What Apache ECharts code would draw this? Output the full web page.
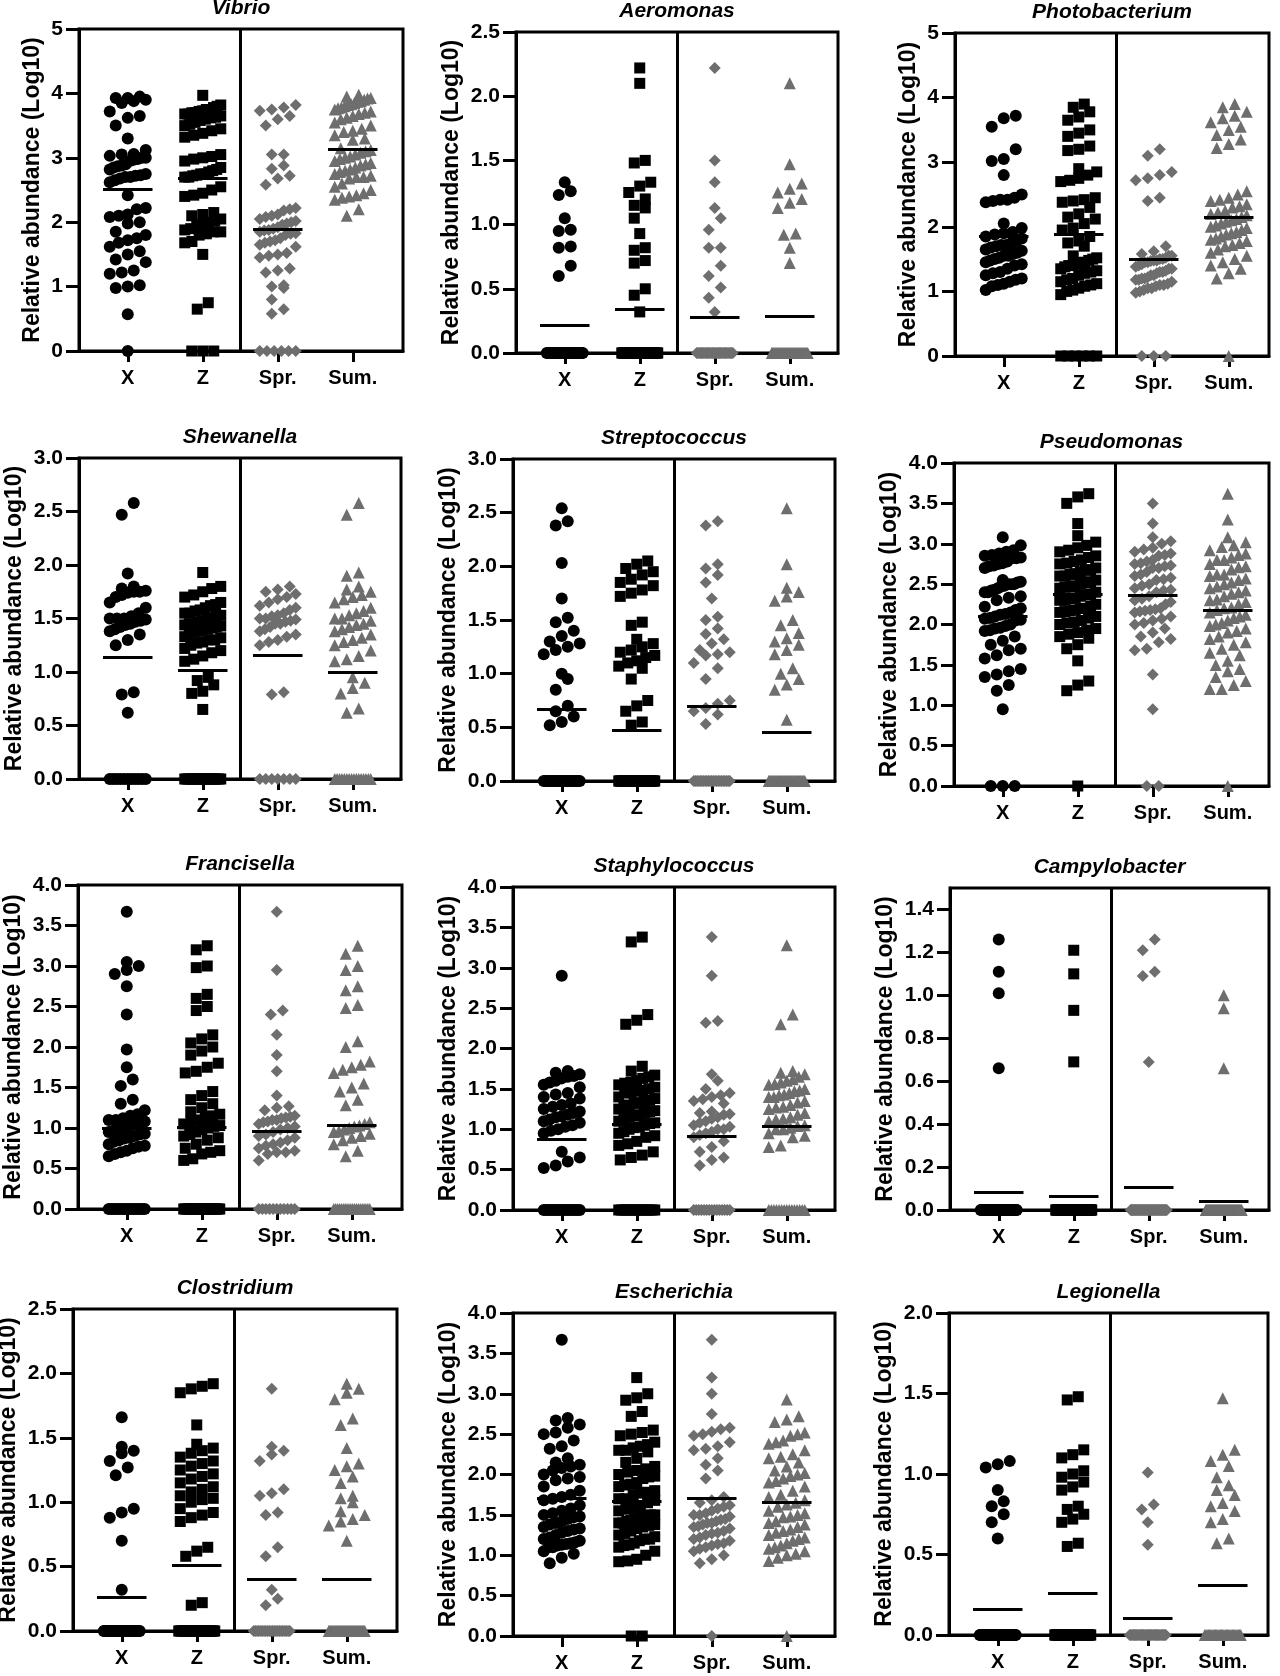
<!DOCTYPE html>
<html>
<head>
<meta charset="utf-8">
<title>Relative abundance by genus</title>
<script src="https://cdn.jsdelivr.net/npm/echarts@6.0.0/dist/echarts.min.js"></script>
<style>
  html, body { margin: 0; padding: 0; background: #fff; }
  #main { width: 1280px; height: 1676px; }
</style>
</head>
<body>
<div id="main"></div>
<script>
// groups on the x axis and the genus shown in each panel
var categories = ['X', 'Z', 'Spr.', 'Sum.'];
var genera = ['Vibrio', 'Aeromonas', 'Photobacterium', 'Shewanella', 'Streptococcus', 'Pseudomonas',
  'Francisella', 'Staphylococcus', 'Campylobacter', 'Clostridium', 'Escherichia', 'Legionella'];

// y axis ticks per panel (top of the axis is the last entry of yMax)
var yMax = [5, 2.5, 5, 3, 3, 4, 4, 4, 1.5, 2.5, 4, 2];
var ticksInt5 = [0, 1, 2, 3, 4, 5];
var ticks25 = [0, 0.5, 1, 1.5, 2, 2.5];
var ticks30 = [0, 0.5, 1, 1.5, 2, 2.5, 3];
var ticks40 = [0, 0.5, 1, 1.5, 2, 2.5, 3, 3.5, 4];
var ticks14 = [0, 0.2, 0.4, 0.6, 0.8, 1, 1.2, 1.4];
var ticks20 = [0, 0.5, 1, 1.5, 2];

// ---- Vibrio
var vibrioX = [3.95,3.93,3.93,3.9,3.88,3.85,3.72,3.65,3.62,3.5,3.3,3.12,3.06,3.05,3.03,3.0,3.0,2.98,2.97,2.95,2.9,2.88,2.87,2.85,2.82,2.75,2.73,2.72,2.7,2.7,2.68,2.65,2.62,2.42,2.22,2.2,2.12,2.1,2.08,2.0,1.98,1.85,1.8,1.75,1.72,1.68,1.62,1.55,1.5,1.42,1.38,1.25,1.22,1.2,1.02,1.0,0.98,0.57,0];
var vibrioZ = [3.97,3.82,3.8,3.78,3.75,3.75,3.73,3.72,3.7,3.7,3.68,3.68,3.65,3.63,3.62,3.6,3.58,3.55,3.52,3.5,3.45,3.42,3.38,3.35,3.32,3.05,3.02,3.0,2.98,2.95,2.85,2.82,2.8,2.78,2.75,2.75,2.73,2.72,2.7,2.7,2.55,2.5,2.45,2.42,2.4,2.15,2.12,2.1,2.05,2.02,2.0,1.98,1.95,1.9,1.88,1.85,1.85,1.82,1.8,1.7,1.68,1.5,0.75,0.65,0,0,0];
var vibrioSpr = [3.82,3.78,3.75,3.73,3.65,3.6,3.5,3.05,3.05,2.88,2.83,2.72,2.68,2.58,2.22,2.2,2.18,2.12,2.1,2.08,2.05,2.02,2.0,1.98,1.96,1.92,1.9,1.88,1.87,1.85,1.83,1.82,1.8,1.75,1.72,1.7,1.68,1.65,1.62,1.52,1.5,1.48,1.45,1.28,1.25,1.22,1.02,1.0,0.98,0.8,0.65,0.58,0,0,0,0,0,0];
var vibrioSum = [3.98,3.95,3.93,3.92,3.9,3.88,3.87,3.85,3.83,3.82,3.8,3.78,3.77,3.75,3.72,3.7,3.68,3.65,3.62,3.6,3.55,3.5,3.45,3.42,3.4,3.35,3.3,3.28,3.15,3.12,3.1,3.08,3.05,3.02,3.0,2.98,2.95,2.92,2.9,2.88,2.85,2.82,2.8,2.78,2.75,2.72,2.7,2.7,2.68,2.6,2.55,2.5,2.45,2.42,2.4,2.38,2.35,2.2,2.1];
var vibrioMean = [2.51, 2.68, 1.89, 3.14];

// ---- Aeromonas
var aeromonasX = [1.33,1.26,1.23,1.05,0.96,0.95,0.83,0.82,0.68,0.6,
  0,0,0,0,0,0,0,0,0,0, 0,0,0,0,0,0,0,0,0,0, 0,0,0,0,0,0,0,0,0,0, 0,0,0,0];
var aeromonasZ = [2.22,2.1,1.5,1.48,1.33,1.3,1.25,1.2,1.15,1.13,1.05,0.93,0.82,0.8,0.72,0.7,0.5,0.45,0.32,
  0,0,0,0,0,0,0,0,0,0, 0,0,0,0,0,0,0,0,0,0, 0,0,0,0,0,0,0,0,0,0, 0,0,0,0,0,0,0,0,0,0, 0,0,0];
var aeromonasSpr = [2.22,1.5,1.33,1.13,1.05,0.96,0.82,0.82,0.68,0.6,0.51,0.43,0.32,
  0,0,0,0,0,0,0,0,0,0, 0,0,0,0,0,0,0,0,0,0, 0,0,0,0,0,0,0,0,0,0, 0];
var aeromonasSum = [2.1,1.47,1.32,1.28,1.25,1.2,1.17,1.13,0.93,0.92,0.82,0.7,
  0,0,0,0,0,0,0,0,0,0, 0,0,0,0,0,0,0,0,0,0, 0,0,0,0,0,0,0,0,0,0, 0,0,0,0,0,0,0];
var aeromonasMean = [0.22, 0.34, 0.28, 0.29];

// ---- Photobacterium
var photobacteriumX = [3.72,3.68,3.55,3.2,3.05,3.02,2.8,2.5,2.45,2.42,2.42,2.4,2.38,2.05,1.98,1.92,1.9,1.88,1.85,1.82,1.78,1.75,1.72,1.72,1.7,1.68,1.65,1.63,1.6,1.58,1.55,1.55,1.52,1.5,1.48,1.45,1.42,1.4,1.35,1.3,1.28,1.25,1.2,1.18,1.15,1.12,1.1,1.08,1.02];
var photobacteriumZ = [3.9,3.85,3.78,3.7,3.65,3.5,3.45,3.4,3.25,3.2,3.18,2.9,2.85,2.8,2.75,2.72,2.7,2.45,2.42,2.4,2.38,2.3,2.2,2.15,2.12,2.05,1.98,1.95,1.85,1.78,1.75,1.7,1.55,1.52,1.5,1.48,1.45,1.45,1.42,1.4,1.4,1.38,1.35,1.32,1.3,1.28,1.25,1.2,1.18,1.15,1.12,1.1,1.08,1.05,1.02,1.0,0.95,0,0,0,0,0,0];
var photobacteriumSpr = [3.2,3.1,2.85,2.8,2.75,2.72,2.45,2.4,1.7,1.62,1.58,1.55,1.55,1.52,1.5,1.5,1.48,1.48,1.47,1.45,1.45,1.42,1.4,1.38,1.35,1.35,1.32,1.3,1.3,1.28,1.25,1.25,1.22,1.2,1.2,1.18,1.18,1.15,1.12,1.1,1.1,1.08,1.05,1.05,1.02,1.0,0.98,0,0,0];
var photobacteriumSum = [3.9,3.85,3.78,3.72,3.68,3.62,3.55,3.5,3.42,3.35,3.28,3.22,2.55,2.5,2.45,2.42,2.4,2.35,2.32,2.3,2.25,2.22,2.2,2.18,2.15,2.12,2.1,2.08,2.05,2.02,2.0,1.98,1.95,1.92,1.9,1.88,1.85,1.82,1.8,1.78,1.75,1.72,1.7,1.65,1.6,1.55,1.5,1.45,1.4,1.35,1.28,1.2,0];
var photobacteriumMean = [1.85, 1.88, 1.49, 2.15];

// ---- Shewanella
var shewanellaX = [2.58,2.47,1.92,1.8,1.78,1.76,1.75,1.75,1.74,1.72,1.7,1.65,1.6,1.55,1.52,1.5,1.5,1.5,1.49,1.48,1.47,1.45,1.44,1.42,1.4,1.38,1.35,1.3,1.25,0.81,0.79,0.62,
  0,0,0,0,0,0,0,0,0,0, 0];
var shewanellaZ = [1.93,1.8,1.78,1.75,1.72,1.7,1.65,1.63,1.62,1.6,1.58,1.57,1.55,1.55,1.53,1.52,1.5,1.5,1.48,1.47,1.45,1.45,1.44,1.43,1.42,1.41,1.4,1.4,1.38,1.37,1.35,1.33,1.32,1.3,1.3,1.28,1.27,1.25,1.22,1.2,1.18,1.15,1.12,1.1,0.95,0.92,0.88,0.82,0.8,0.65,
  0,0,0,0,0,0,0,0,0,0, 0,0,0,0,0,0,0,0,0];
var shewanellaSpr = [1.8,1.77,1.75,1.73,1.7,1.68,1.65,1.62,1.6,1.58,1.55,1.53,1.52,1.5,1.5,1.49,1.48,1.47,1.45,1.45,1.42,1.4,1.38,1.35,1.33,1.3,1.28,1.25,0.81,0.79,
  0,0,0,0,0,0,0];
var shewanellaSum = [2.58,2.47,1.93,1.9,1.8,1.77,1.75,1.72,1.7,1.68,1.65,1.6,1.57,1.55,1.53,1.5,1.5,1.48,1.45,1.44,1.42,1.4,1.38,1.35,1.32,1.3,1.28,1.25,1.2,1.15,1.12,1.1,0.95,0.9,0.85,0.8,0.66,0.62,
  0,0,0,0,0,0,0,0,0,0, 0,0,0,0,0,0];
var shewanellaMean = [1.14, 1.02, 1.16, 1.0];

// ---- Streptococcus
var streptococcusX = [2.54,2.42,2.38,2.03,1.7,1.52,1.48,1.4,1.35,1.3,1.28,1.25,1.22,1.18,1.0,0.95,0.85,0.7,0.65,0.6,0.55,0.52,
  0,0,0,0,0,0,0,0,0,0, 0,0,0,0,0,0,0,0,0,0, 0];
var streptococcusZ = [2.05,2.02,1.98,1.95,1.92,1.88,1.85,1.82,1.78,1.75,1.72,1.48,1.45,1.32,1.28,1.25,1.22,1.2,1.17,1.15,1.12,1.1,1.07,1.05,0.95,0.75,0.7,0.65,0.55,0.52,
  0,0,0,0,0,0,0,0,0,0, 0,0,0,0,0,0,0,0,0,0, 0,0,0,0,0,0,0,0,0,0, 0,0,0,0,0,0,0,0,0,0];
var streptococcusSpr = [2.42,2.38,2.02,1.98,1.92,1.85,1.7,1.53,1.5,1.42,1.37,1.32,1.28,1.22,1.2,1.18,1.17,1.1,1.05,0.95,0.75,0.72,0.68,0.65,0.62,0.53,
  0,0,0,0,0,0,0,0,0,0, 0,0,0,0,0,0,0,0,0,0, 0,0,0];
var streptococcusSum = [2.54,2.02,1.8,1.76,1.72,1.68,1.5,1.45,1.38,1.33,1.3,1.27,1.22,1.18,1.05,1.0,0.95,0.9,0.85,0.57,
  0,0,0,0,0,0,0,0,0,0, 0,0,0,0,0,0,0,0,0,0, 0,0,0,0,0,0,0,0,0,0, 0,0,0,0,0,0,0,0,0,0, 0];
var streptococcusMean = [0.67, 0.47, 0.70, 0.45];

// ---- Pseudomonas
var pseudomonasX = [3.08,2.98,2.92,2.9,2.88,2.86,2.85,2.83,2.82,2.82,2.78,2.76,2.75,2.73,2.72,2.7,2.55,2.53,2.52,2.5,2.5,2.5,2.48,2.47,2.45,2.43,2.42,2.4,2.4,2.35,2.33,2.3,2.22,2.2,2.18,2.15,2.13,2.12,2.1,2.08,2.07,2.06,2.05,2.0,1.98,1.96,1.95,1.93,1.92,1.85,1.8,1.75,1.7,1.68,1.62,1.58,1.45,1.42,1.38,1.35,1.25,1.18,0.95,0,0,0];
var pseudomonasZ = [3.62,3.58,3.5,3.25,3.1,3.02,2.98,2.95,2.92,2.9,2.85,2.83,2.8,2.78,2.76,2.75,2.7,2.68,2.67,2.65,2.63,2.62,2.6,2.6,2.55,2.53,2.52,2.5,2.48,2.47,2.46,2.45,2.4,2.38,2.37,2.35,2.33,2.32,2.3,2.3,2.25,2.23,2.2,2.2,2.18,2.17,2.16,2.15,2.1,2.08,2.05,2.03,2.02,2.0,1.95,1.93,1.9,1.88,1.85,1.83,1.75,1.7,1.55,1.3,1.25,1.18,0];
var pseudomonasSpr = [3.5,3.25,3.08,3.03,3.0,2.95,2.93,2.9,2.88,2.86,2.85,2.8,2.78,2.76,2.75,2.73,2.72,2.7,2.7,2.65,2.62,2.6,2.58,2.56,2.55,2.5,2.48,2.45,2.43,2.42,2.4,2.35,2.32,2.3,2.28,2.25,2.2,2.19,2.18,2.17,2.16,2.15,2.1,2.07,2.05,2.02,2.0,1.95,1.9,1.85,1.82,1.78,1.7,1.68,1.38,0.95,0,0];
var pseudomonasSum = [3.62,3.3,3.08,3.02,2.98,2.96,2.92,2.88,2.86,2.83,2.8,2.8,2.75,2.72,2.71,2.68,2.62,2.62,2.6,2.57,2.55,2.52,2.5,2.47,2.45,2.42,2.4,2.38,2.35,2.31,2.3,2.28,2.25,2.21,2.2,2.18,2.15,2.12,2.1,2.08,2.05,2.02,2.0,1.98,1.95,1.92,1.9,1.85,1.82,1.78,1.75,1.7,1.65,1.62,1.55,1.5,1.45,1.42,1.35,1.3,1.25,1.2,1.2,0];
var pseudomonasMean = [2.10, 2.37, 2.36, 2.18];

// ---- Francisella
var francisellaX = [3.67,3.05,3.0,2.95,2.9,2.75,2.4,1.97,1.75,1.6,1.52,1.35,1.3,1.22,1.17,1.15,1.12,1.1,1.1,1.08,1.06,1.05,1.02,1.0,0.98,0.97,0.95,0.93,0.92,0.9,0.88,0.87,0.85,0.83,0.8,0.78,0.77,0.75,0.72,0.7,0.68,0.65,
  0,0,0,0,0,0,0,0,0,0, 0,0,0,0,0];
var francisellaZ = [3.25,3.2,3.0,2.98,2.65,2.6,2.5,2.45,2.15,2.1,2.05,2.0,1.95,1.9,1.8,1.75,1.7,1.68,1.45,1.4,1.35,1.3,1.25,1.2,1.17,1.15,1.12,1.1,1.08,1.05,1.03,1.02,1.0,0.98,0.95,0.92,0.9,0.88,0.85,0.8,0.75,0.72,0.7,0.68,0.62,0.6,
  0,0,0,0,0,0,0,0,0,0, 0,0,0,0,0,0,0,0,0,0, 0,0,0];
var francisellaSpr = [3.67,2.95,2.45,2.4,2.15,1.9,1.7,1.4,1.27,1.25,1.22,1.15,1.14,1.13,1.12,1.1,1.1,1.08,1.07,1.05,1.02,1.0,0.98,0.95,0.92,0.9,0.88,0.85,0.82,0.8,0.78,0.75,0.72,0.7,0.7,0.68,0.6,
  0,0,0,0,0,0,0,0,0,0, 0];
var francisellaSum = [3.25,3.15,3.0,2.95,2.75,2.7,2.52,2.48,2.07,2.0,1.82,1.78,1.75,1.72,1.68,1.55,1.5,1.45,1.35,1.28,1.07,1.05,1.03,1.02,1.0,0.98,0.96,0.95,0.93,0.9,0.88,0.85,0.8,0.72,0.65,
  0,0,0,0,0,0,0,0,0,0, 0,0,0,0,0,0,0,0,0,0];
var francisellaMean = [1.0, 1.01, 0.96, 1.03];

// ---- Staphylococcus
var staphylococcusX = [2.9,1.72,1.7,1.68,1.66,1.65,1.63,1.6,1.58,1.55,1.52,1.45,1.43,1.4,1.38,1.32,1.3,1.28,1.25,1.22,1.2,1.18,1.16,1.15,1.12,1.1,1.08,1.05,1.03,1.0,0.98,0.95,0.72,0.65,0.6,0.55,0.52,
  0,0,0,0,0,0,0,0,0,0, 0,0,0,0,0];
var staphylococcusZ = [3.38,3.32,2.42,2.35,2.3,1.78,1.72,1.67,1.65,1.63,1.6,1.58,1.57,1.55,1.52,1.5,1.48,1.47,1.45,1.45,1.4,1.38,1.36,1.35,1.33,1.32,1.3,1.28,1.25,1.23,1.22,1.2,1.18,1.17,1.15,1.12,1.1,1.08,1.07,1.05,1.03,1.02,1.0,0.97,0.95,0.92,0.9,0.85,0.82,0.8,0.72,0.68,0.65,0.62,
  0,0,0,0,0,0,0,0,0,0, 0,0,0,0,0];
var staphylococcusSpr = [3.38,2.9,2.34,2.32,1.68,1.6,1.5,1.45,1.42,1.4,1.37,1.35,1.32,1.22,1.2,1.19,1.18,1.15,1.13,1.1,1.08,1.05,1.03,1.0,1.0,0.97,0.95,0.93,0.9,0.85,0.78,0.72,0.65,0.62,0.55,
  0,0,0,0,0,0,0,0,0,0, 0,0,0,0,0];
var staphylococcusSum = [3.28,2.42,2.3,1.72,1.7,1.68,1.65,1.62,1.6,1.58,1.56,1.55,1.5,1.48,1.47,1.45,1.43,1.42,1.4,1.4,1.35,1.33,1.3,1.28,1.27,1.25,1.2,1.18,1.15,1.13,1.12,1.1,1.05,1.04,1.02,1.0,1.0,0.95,0.92,0.9,0.8,0.78,
  0,0,0,0,0,0,0,0,0,0, 0,0,0,0,0];
var staphylococcusMean = [0.87, 1.06, 0.91, 1.04];

// ---- Campylobacter
var campylobacterX = [1.26,1.11,1.01,0.66,
  0,0,0,0,0,0,0,0,0,0, 0,0,0,0,0,0,0,0,0,0, 0,0,0,0,0,0,0,0,0,0, 0,0,0,0,0,0,0,0,0,0, 0,0,0,0,0,0];
var campylobacterZ = [1.21,1.1,0.93,0.69,
  0,0,0,0,0,0,0,0,0,0, 0,0,0,0,0,0,0,0,0,0, 0,0,0,0,0,0,0,0,0,0, 0,0,0,0,0,0,0,0,0,0, 0,0,0,0,0,0,0,0,0,0, 0,0,0,0,0,0,0,0,0,0, 0];
var campylobacterSpr = [1.26,1.21,1.11,1.09,0.69,
  0,0,0,0,0,0,0,0,0,0, 0,0,0,0,0,0,0,0,0,0, 0,0,0,0,0,0,0,0,0,0, 0,0,0,0,0,0,0,0,0,0, 0,0,0,0,0,0];
var campylobacterSum = [1.0,0.94,0.66,
  0,0,0,0,0,0,0,0,0,0, 0,0,0,0,0,0,0,0,0,0, 0,0,0,0,0,0,0,0,0,0, 0,0,0,0,0,0,0,0,0,0, 0,0,0,0,0,0,0,0,0,0, 0,0,0,0,0,0,0,0,0,0, 0,0];
var campylobacterMean = [0.082, 0.062, 0.108, 0.04];

// ---- Clostridium
var clostridiumX = [1.66,1.43,1.4,1.38,1.32,1.27,1.21,0.95,0.92,0.88,0.7,0.32,
  0,0,0,0,0,0,0,0,0,0, 0,0,0,0,0,0,0,0,0,0, 0,0,0,0,0,0,0,0,0,0, 0,0,0,0,0,0,0,0,0,0];
var clostridiumZ = [1.92,1.9,1.88,1.85,1.6,1.45,1.42,1.4,1.38,1.35,1.32,1.3,1.28,1.25,1.22,1.2,1.18,1.15,1.12,1.1,1.08,1.05,1.03,1.02,1.0,0.95,0.92,0.9,0.88,0.85,0.65,0.62,0.58,0.22,0.2,
  0,0,0,0,0,0,0,0,0,0, 0,0,0,0,0,0,0,0,0,0, 0,0,0,0,0,0,0,0,0,0];
var clostridiumSpr = [1.88,1.43,1.4,1.37,1.32,1.1,1.07,1.05,0.92,0.9,0.65,0.58,0.32,0.25,0.2,
  0,0,0,0,0,0,0,0,0,0, 0,0,0,0,0,0,0,0,0,0, 0,0];
var clostridiumSum = [1.92,1.88,1.85,1.8,1.65,1.6,1.42,1.3,1.28,1.25,1.2,1.15,1.05,1.03,1.0,0.93,0.9,0.87,0.85,0.82,0.7,
  0,0,0,0,0,0,0,0,0,0, 0,0,0,0,0,0,0,0,0,0, 0,0,0,0,0,0,0,0,0,0, 0,0,0,0,0,0,0,0,0,0, 0,0,0,0,0];
var clostridiumMean = [0.26, 0.51, 0.40, 0.40];

// ---- Escherichia
var escherichiaX = [3.67,2.7,2.67,2.62,2.58,2.52,2.5,2.42,2.35,2.32,2.2,2.15,2.12,2.1,2.08,2.05,2.0,1.97,1.95,1.93,1.85,1.8,1.75,1.72,1.7,1.68,1.62,1.58,1.55,1.52,1.5,1.48,1.47,1.45,1.42,1.4,1.38,1.35,1.33,1.32,1.3,1.28,1.25,1.22,1.2,1.18,1.16,1.15,1.14,1.13,1.12,1.1,1.1,1.05,1.02,0.97,0.9];
var escherichiaZ = [3.2,3.0,2.95,2.92,2.78,2.72,2.55,2.52,2.5,2.48,2.4,2.37,2.35,2.33,2.3,2.3,2.28,2.2,2.15,2.1,2.07,2.05,2.03,2.0,1.98,1.97,1.95,1.9,1.88,1.87,1.85,1.8,1.78,1.77,1.75,1.7,1.7,1.68,1.65,1.6,1.58,1.57,1.55,1.5,1.5,1.48,1.47,1.45,1.45,1.43,1.42,1.4,1.4,1.38,1.37,1.35,1.33,1.3,1.27,1.25,1.23,1.2,1.2,1.18,1.15,1.13,1.12,1.1,1.05,1.0,0.95,0.93,0.92,0,0];
var escherichiaSpr = [3.67,3.2,3.0,2.75,2.58,2.56,2.53,2.5,2.48,2.4,2.35,2.32,2.3,2.2,2.12,2.05,1.95,1.72,1.68,1.65,1.62,1.6,1.58,1.55,1.52,1.5,1.5,1.48,1.45,1.44,1.42,1.4,1.4,1.38,1.36,1.35,1.33,1.3,1.28,1.27,1.25,1.22,1.2,1.18,1.15,1.14,1.12,1.1,1.08,1.05,1.0,0.95,0.9,0];
var escherichiaSum = [2.93,2.72,2.68,2.65,2.52,2.5,2.48,2.42,2.4,2.38,2.3,2.25,2.22,2.2,2.15,2.1,2.05,2.02,2.0,1.98,1.95,1.92,1.9,1.85,1.8,1.75,1.72,1.68,1.65,1.63,1.6,1.55,1.52,1.5,1.48,1.47,1.42,1.4,1.38,1.35,1.32,1.3,1.28,1.25,1.22,1.2,1.18,1.15,1.12,1.1,1.08,1.05,1.02,1.0,0.97,0.93,0];
var escherichiaMean = [1.70, 1.67, 1.71, 1.66];

// ---- Legionella
var legionellaX = [1.08,1.06,1.04,0.9,0.83,0.8,0.75,0.7,0.6,
  0,0,0,0,0,0,0,0,0,0, 0,0,0,0,0,0,0,0,0,0, 0,0,0,0,0,0,0,0,0,0, 0,0,0,0,0,0,0,0,0];
var legionellaZ = [1.48,1.46,1.15,1.12,1.1,1.02,1.0,0.98,0.95,0.92,0.9,0.8,0.78,0.75,0.72,0.7,0.57,0.55,
  0,0,0,0,0,0,0,0,0,0, 0,0,0,0,0,0,0,0,0,0, 0,0,0,0,0,0,0,0,0,0, 0,0,0,0,0,0,0,0,0,0, 0,0,0,0,0,0];
var legionellaSpr = [1.01,0.81,0.78,0.7,0.56,
  0,0,0,0,0,0,0,0,0,0, 0,0,0,0,0,0,0,0,0,0, 0,0,0,0,0,0,0,0,0,0, 0,0];
var legionellaSum = [1.47,1.15,1.12,1.08,1.05,0.98,0.93,0.9,0.87,0.82,0.8,0.77,0.72,0.7,0.6,0.57,
  0,0,0,0,0,0,0,0,0,0, 0,0,0,0,0,0,0,0,0,0, 0,0,0,0,0,0,0,0,0,0, 0];
var legionellaMean = [0.16, 0.26, 0.105, 0.31];

// panels in reading order
var panelData = [
  [vibrioX, vibrioZ, vibrioSpr, vibrioSum],
  [aeromonasX, aeromonasZ, aeromonasSpr, aeromonasSum],
  [photobacteriumX, photobacteriumZ, photobacteriumSpr, photobacteriumSum],
  [shewanellaX, shewanellaZ, shewanellaSpr, shewanellaSum],
  [streptococcusX, streptococcusZ, streptococcusSpr, streptococcusSum],
  [pseudomonasX, pseudomonasZ, pseudomonasSpr, pseudomonasSum],
  [francisellaX, francisellaZ, francisellaSpr, francisellaSum],
  [staphylococcusX, staphylococcusZ, staphylococcusSpr, staphylococcusSum],
  [campylobacterX, campylobacterZ, campylobacterSpr, campylobacterSum],
  [clostridiumX, clostridiumZ, clostridiumSpr, clostridiumSum],
  [escherichiaX, escherichiaZ, escherichiaSpr, escherichiaSum],
  [legionellaX, legionellaZ, legionellaSpr, legionellaSum]
];
var panelMeans = [vibrioMean, aeromonasMean, photobacteriumMean, shewanellaMean, streptococcusMean,
  pseudomonasMean, francisellaMean, staphylococcusMean, campylobacterMean, clostridiumMean,
  escherichiaMean, legionellaMean];
var panelTicks = [ticksInt5, ticks25, ticksInt5, ticks30, ticks30, ticks40, ticks40, ticks40,
  ticks14, ticks25, ticks40, ticks20];

// plot rectangles (px)
var layout = [
  {left: 79, top: 29, width: 324, height: 322},
  {left: 516, top: 32, width: 322, height: 321},
  {left: 955, top: 33, width: 314, height: 323},
  {left: 79, top: 458, width: 322, height: 321},
  {left: 513, top: 459, width: 322, height: 322},
  {left: 954, top: 463, width: 315, height: 323},
  {left: 78, top: 885, width: 324, height: 324},
  {left: 513, top: 887, width: 322, height: 323},
  {left: 950, top: 888, width: 319, height: 322},
  {left: 73, top: 1309, width: 324, height: 322},
  {left: 513, top: 1313, width: 322, height: 323},
  {left: 949, top: 1313, width: 319, height: 322}
];

var FONT = '"Liberation Sans", Arial, Helvetica, sans-serif';
var GRAY = '#6e6e6e';
var PX_PER_CAT = 75;     // px between two groups
var X_MIN = -0.65;
var markers = [
  {symbol: 'circle', size: 12, color: '#000'},
  {symbol: 'rect', size: 11, color: '#000'},
  {symbol: 'diamond', size: 12, color: GRAY},
  {symbol: 'triangle', size: 12, color: GRAY}
];

// spread points that sit at nearly the same height side by side (dot plot layout)
function swarm(values, cat, pxPerUnit, size) {
  var maxOff = 18;
  var sorted = values.slice().sort(function (a, b) { return a - b; });
  var rows = [];
  var cur = null;
  sorted.forEach(function (v) {
    var py = v * pxPerUnit;
    if (!cur || py - cur.start >= size) {
      cur = {start: py, vals: []};
      rows.push(cur);
    }
    cur.vals.push(v);
  });
  var pts = [];
  rows.forEach(function (row) {
    var n = row.vals.length;
    var step = n > 1 ? Math.min(size, 2 * maxOff / (n - 1)) : 0;
    row.vals.forEach(function (v, i) {
      pts.push([cat + (i - (n - 1) / 2) * step / PX_PER_CAT, v]);
    });
  });
  return pts;
}

var grids = [], xAxes = [], yAxes = [], series = [], titles = [];

panelData.forEach(function (groups, p) {
  var L = layout[p];
  var ticks = panelTicks[p];
  var decimals = (ticks === ticksInt5) ? 0 : 1;
  var pxPerUnit = L.height / yMax[p];

  grids.push({
    left: L.left, top: L.top, width: L.width, height: L.height,
    show: true, borderColor: '#000', borderWidth: 3, backgroundColor: 'transparent',
    outerBoundsMode: 'none', containLabel: false
  });

  titles.push({
    text: genera[p],
    left: L.left + L.width / 2,
    top: L.top - 31,
    textAlign: 'center',
    padding: 0,
    textStyle: {fontFamily: FONT, fontSize: 21, fontWeight: 'bold', fontStyle: 'italic', color: '#000'}
  });

  xAxes.push({
    type: 'value', gridIndex: p,
    min: X_MIN, max: X_MIN + L.width / PX_PER_CAT,
    axisLine: {onZero: false, lineStyle: {color: '#000', width: 3}},
    axisTick: {customValues: [0, 1, 2, 3], length: 11, lineStyle: {color: '#000', width: 3}},
    axisLabel: {
      customValues: [0, 1, 2, 3], margin: 17,
      fontFamily: FONT, fontSize: 20, fontWeight: 'bold', color: '#000',
      formatter: function (v) { return categories[Math.round(v)]; }
    },
    splitLine: {show: false}
  });

  yAxes.push({
    type: 'value', gridIndex: p, min: 0, max: yMax[p],
    name: 'Relative abundance (Log10)', nameLocation: 'middle',
    nameGap: decimals ? 53 : 35, nameMoveOverlap: false,
    nameTextStyle: {fontFamily: FONT, fontSize: 23, fontWeight: 'bold', color: '#000'},
    axisLine: {onZero: false, lineStyle: {color: '#000', width: 3}},
    axisTick: {customValues: ticks, length: 13, lineStyle: {color: '#000', width: 3}},
    axisLabel: {
      customValues: ticks, margin: 16,
      fontFamily: FONT, fontSize: 21, fontWeight: 'bold', color: '#000',
      formatter: function (v) { return v.toFixed(decimals); }
    },
    splitLine: {show: false}
  });

  groups.forEach(function (vals, c) {
    var m = markers[c];
    series.push({
      type: 'scatter', xAxisIndex: p, yAxisIndex: p,
      name: genera[p] + ' ' + categories[c],
      symbol: m.symbol, symbolSize: m.size,
      itemStyle: {color: m.color, opacity: 1},
      clip: false, silent: true, z: 2,
      data: swarm(vals, c, pxPerUnit, m.size)
    });
  });

  // mean lines and the X/Z | Spr./Sum. divider
  var lines = [{xAxis: 1.5}];
  panelMeans[p].forEach(function (mean, c) {
    lines.push([{coord: [c - 0.33, mean]}, {coord: [c + 0.33, mean]}]);
  });
  series.push({
    type: 'scatter', xAxisIndex: p, yAxisIndex: p, data: [], z: 5, silent: true,
    markLine: {
      silent: true, symbol: ['none', 'none'], label: {show: false},
      lineStyle: {color: '#000', width: 3, type: 'solid'},
      emphasis: {disabled: true},
      data: lines
    }
  });
});

var chart = echarts.init(document.getElementById('main'), null, {renderer: 'canvas'});
chart.setOption({
  animation: false,
  backgroundColor: '#fff',
  title: titles,
  grid: grids,
  xAxis: xAxes,
  yAxis: yAxes,
  series: series
});
window.onresize = chart.resize;
</script>
</body>
</html>
